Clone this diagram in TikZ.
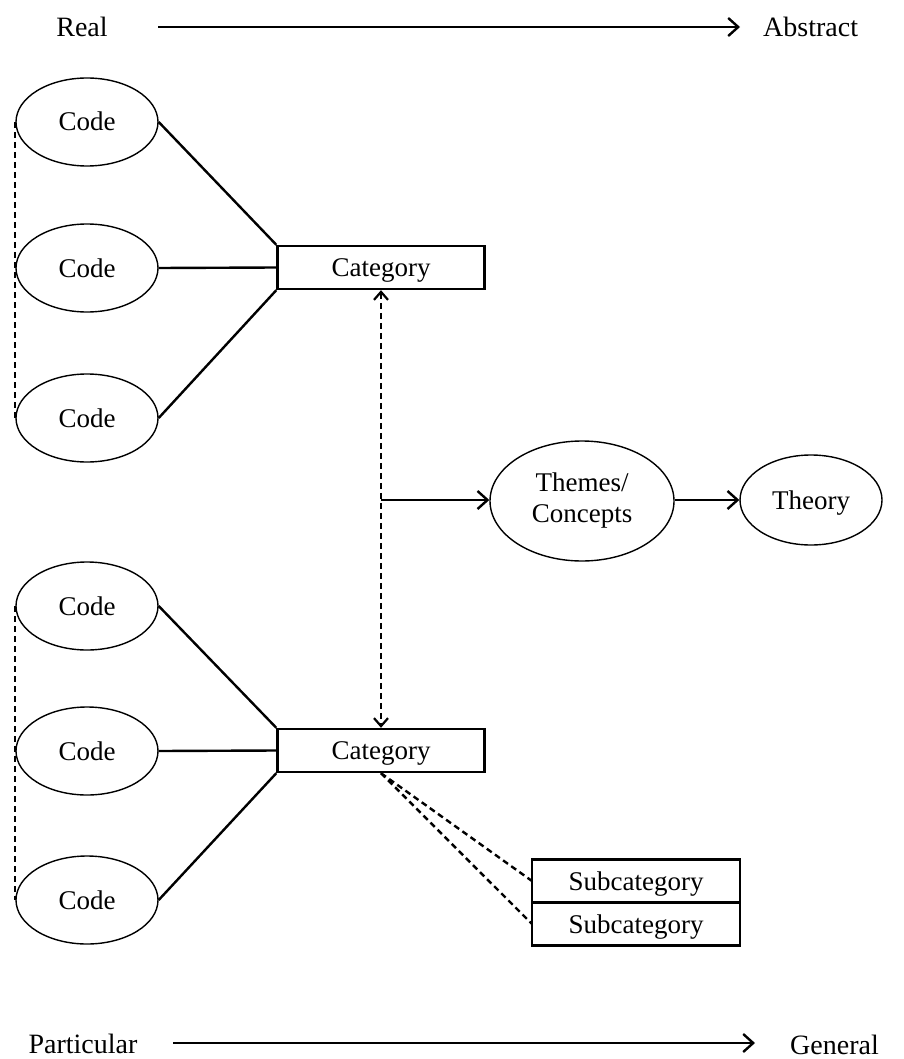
\documentclass[tikz,border=0pt]{standalone}
\usepackage{fontspec}
\setmainfont{Liberation Serif}
\usetikzlibrary{shapes.geometric,arrows.meta,positioning}
\begin{document}
\begin{tikzpicture}[x=1pt,y=-1pt,
  txt/.style={font=\fontsize{28}{31}\selectfont, inner sep=0pt},
  lbl/.style={font=\fontsize{27}{30}\selectfont, text height=18pt, text depth=0pt},
  codeell/.style={ellipse, draw, line width=1.4pt, minimum width=142pt, minimum height=88pt, inner sep=0pt, lbl},
  catbox/.style={rectangle, draw, line width=2.4pt, minimum width=207pt, minimum height=43pt, inner sep=0pt, lbl},
  subbox/.style={rectangle, draw, line width=2.4pt, outer sep=0pt, minimum width=208pt, minimum height=43pt, inner sep=0pt, lbl},
  link/.style={line width=2.4pt},
  dlink/.style={line width=2.4pt, dash pattern=on 6pt off 4pt},
  arr/.style={line width=2.4pt, -{Straight Barb[length=10pt,width=18pt,line width=2.4pt]}},
  darr/.style={line width=2.4pt, dash pattern=on 6pt off 4pt, {Straight Barb[length=8pt,width=14pt,line width=2.2pt]}-{Straight Barb[length=8pt,width=14pt,line width=2.2pt]}},
]
\useasboundingbox (0,0) rectangle (903,1059);

% axis arrows
\node[txt] (real) at (82,27) {Real};
\node[txt, anchor=west] (abstract) at (763,27) {Abstract};
\coordinate (a1) at (158,27);
\coordinate (a2) at (740,27);
\draw[arr] (a1) -- (a2);

\node[txt] (particular) at (83,1044) {Particular};
\node[txt, anchor=west] (general) at (790,1045) {General};
\coordinate (b1) at (173,1043);
\coordinate (b2) at (755,1043);
\draw[arr] (b1) -- (b2);

% upper group
\node[codeell] (c1) at (87,122) {Code};
\node[codeell] (c2) at (87,268) {Code};
\node[codeell] (c3) at (87,418) {Code};
\node[catbox] (cat1) at (381,267.5) {Category};
\draw[link] (c1.east) -- (cat1.north west);
\draw[link] (c2.east) -- (cat1.west);
\draw[link] (c3.east) -- (cat1.south west);
\draw[dlink, line width=1.8pt] (c1.west) -- (c3.west);

% lower group
\node[codeell] (c4) at (87,606) {Code};
\node[codeell] (c5) at (87,751) {Code};
\node[codeell] (c6) at (87,900) {Code};
\node[catbox] (cat2) at (381,750.5) {Category};
\draw[link] (c4.east) -- (cat2.north west);
\draw[link] (c5.east) -- (cat2.west);
\draw[link] (c6.east) -- (cat2.south west);
\draw[dlink, line width=1.8pt] (c4.west) -- (c6.west);

% connection between categories
\draw[darr] (cat1.south) -- (cat2.north);
\coordinate (j) at (381,500);

\node[ellipse, draw, line width=1.4pt, minimum width=184pt, minimum height=120pt, inner sep=0pt, align=center, font=\fontsize{27}{31}\selectfont] (themes) at (582,501) {Themes/\\Concepts};
\node[ellipse, draw, line width=1.4pt, minimum width=142pt, minimum height=90pt, inner sep=0pt, lbl] (theory) at (811,500) {Theory};
\draw[arr] (j) -- (themes.west |- j);
\draw[arr] (themes.east |- theory.west) -- (theory.west);

% subcategories
\node[subbox] (sub1) at (636,881) {Subcategory};
\node[subbox, anchor=north] (sub2) at (sub1.south) {Subcategory};
\draw[dlink] (cat2.south) -- (sub1.west);
\draw[dlink] (cat2.south) -- (sub2.west);
\end{tikzpicture}
\end{document}
